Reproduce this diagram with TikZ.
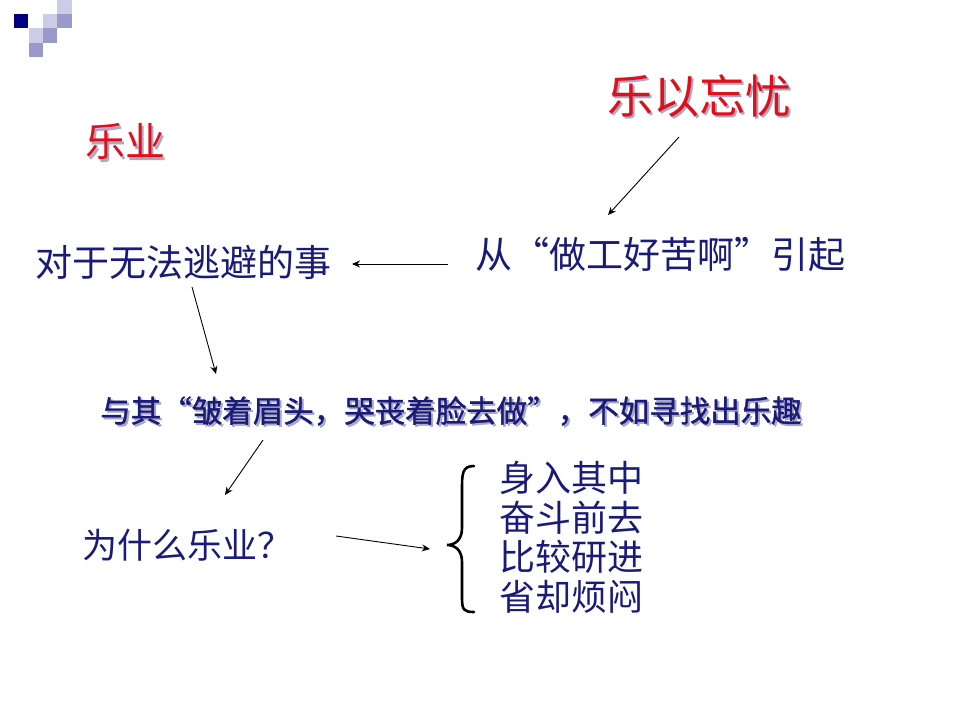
\documentclass[tikz,border=0pt]{standalone}
\usepackage{fontspec}
\newfontfamily\cjk{Noto Sans CJK SC}
\newfontfamily\cjkb{Noto Sans CJK SC}[FakeBold=1.2]
\usetikzlibrary{arrows.meta}
\definecolor{navy}{HTML}{1A1A78}
\definecolor{redt}{HTML}{E0101A}
\definecolor{shadowc}{HTML}{A8A8C8}
\definecolor{sqdark}{HTML}{000080}
\definecolor{sqmid}{HTML}{9999CC}
\definecolor{sqlight}{HTML}{CCCCE6}
\newcommand{\shadowed}[2][2pt]{\makebox[0pt][l]{\raisebox{-#1}{\hspace{#1}\textcolor{shadowc}{#2}}}#2}
\tikzset{
  txt/.style={inner sep=0pt, anchor=center, text=navy, font=\cjk\fontsize{#1}{#1}\selectfont},
  redtitle/.style={inner sep=0pt, anchor=center, text=redt, font=\cjk\fontsize{#1}{#1}\selectfont},
  listtxt/.style={inner sep=0pt, anchor=west, text=navy, font=\cjk\fontsize{36}{36}\selectfont},
  conn/.style={draw=black, line width=0.9pt, -{Stealth[length=8pt,width=7pt]}},
}
\begin{document}
\begin{tikzpicture}[x=1pt,y=-1pt]
\useasboundingbox[fill=white] (0,0) rectangle (960,720);
% logo squares
\fill[sqdark]  (14,14) rectangle (28,28);
\fill[sqlight] (57,0) rectangle (72,14);
\fill[sqlight] (43,14) rectangle (57,28);
\fill[sqmid]   (57,14) rectangle (72,28);
\fill[sqlight] (29,28) rectangle (43,43);
\fill[sqmid]   (43,28) rectangle (57,43);
\fill[sqmid]   (29,43) rectangle (43,57);
% titles with shadow
\node[redtitle=46] (t1) at (699,97) {\shadowed[2.5pt]{乐以忘忧}};
\node[redtitle=40] (t2) at (125,143) {\shadowed[2.5pt]{乐业}};
% main texts
\node[txt=37] (a) at (183,262) {对于无法逃避的事};
\node[txt=37] (b) at (660,254) {从“做工好苦啊”引起};
\node[txt=30, font=\cjkb\fontsize{30.5}{30.5}\selectfont] (c) at (451,412) {\shadowed[2pt]{与其“皱着眉头，哭丧着脸去做”，不如寻找出乐趣}};
\node[txt=35] (d) at (187,545) {为什么乐业？};
\node[listtxt] (e1) at (499,478) {身入其中};
\node[listtxt] (e2) at (499,518) {奋斗前去};
\node[listtxt] (e3) at (499,557) {比较研进};
\node[listtxt] (e4) at (499,597) {省却烦闷};
% brace
\coordinate (bt) at (447,545);
\draw[line width=2.6pt, line cap=round] (474,466) .. controls (462,466) and (462,474) .. (462,490)
  -- (462,528) .. controls (462,540) and (455,545) .. (bt)
  .. controls (455,545) and (462,550) .. (462,562)
  -- (462,598) .. controls (462,610) and (464,612) .. (474,612);
% connectors
\coordinate (p1) at (679,137); \coordinate (q1) at (608,215);
\draw[conn] (p1) -- (q1);
\coordinate (p2) at (448,264); \coordinate (q2) at (352,264);
\draw[conn] (p2) -- (q2);
\coordinate (p3) at (192,287); \coordinate (q3) at (216,374);
\draw[conn] (p3) -- (q3);
\coordinate (p4) at (263,440); \coordinate (q4) at (225,495);
\draw[conn] (p4) -- (q4);
\coordinate (p5) at (336,536); \coordinate (q5) at (430,549);
\draw[conn] (p5) -- (q5);
\end{tikzpicture}
\end{document}
